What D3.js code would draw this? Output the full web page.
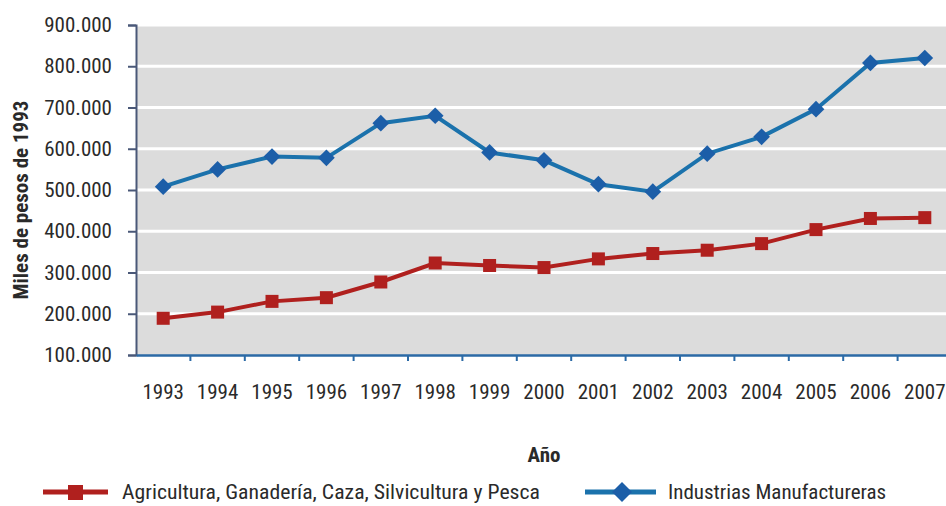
<!DOCTYPE html>
<html><head><meta charset="utf-8">
<script src="https://cdn.jsdelivr.net/npm/d3@7"></script>
<style>
body{margin:0;background:#fff;}
text{font-family:"Liberation Sans Narrow","Roboto Condensed","Liberation Sans",sans-serif;fill:#2a2a2a;}
</style></head>
<body><svg id="c" width="946" height="506"></svg>
<script>
const years = ["1993","1994","1995","1996","1997","1998","1999","2000","2001","2002","2003","2004","2005","2006","2007"];
const agricultura = [189000,204000,230000,239000,277000,323000,317000,312000,333000,346000,354000,370000,404000,431000,433000];
const industrias = [508000,550000,581000,578000,662000,680000,591000,572000,514000,496000,588000,629000,696000,808000,820000];
const yTicks = [100000,200000,300000,400000,500000,600000,700000,800000,900000];
const seriesNames = ["Agricultura, Ganadería, Caza, Silvicultura y Pesca","Industrias Manufactureras"];
const colors = {agri:"#b0201e", ind:"#1b72ac", indMarker:"#1c5ea8"};

const svg = d3.select("#c");
const L=136, R=952, T=25, B=355;
const FS = 21;
const x = d3.scaleBand().domain(years).range([L,R]);
const y = d3.scaleLinear().domain([100000,900000]).range([B,T]);
const fmt = v => d3.format(",")(v).replace(/,/g,".");

svg.append("rect").attr("x",L).attr("y",T).attr("width",946-L).attr("height",B-T).attr("fill","#dcdcdc");
svg.append("g").selectAll("line").data(yTicks.slice(1)).join("line")
  .attr("x1",L).attr("x2",946).attr("y1",d=>y(d)).attr("y2",d=>y(d))
  .attr("stroke","#fff").attr("stroke-width",3);

// y axis
const ya = svg.append("g").attr("transform",`translate(${L},0)`)
  .call(d3.axisLeft(y).tickValues(yTicks).tickFormat(fmt).tickSize(8).tickPadding(16));
ya.select(".domain").attr("stroke","#4a5878").attr("stroke-width",2);
ya.selectAll(".tick line").attr("stroke","#4a5878").attr("stroke-width",2);
ya.selectAll("text").attr("font-size",FS).attr("fill","#2a2a2a").attr("font-family",null);

// x axis
const xa = svg.append("g").attr("transform",`translate(0,${B})`)
  .call(d3.axisBottom(x).tickSize(0));
xa.select(".domain").attr("stroke","#2b6aa6").attr("stroke-width",2.5);
xa.selectAll("text").attr("font-size",FS).attr("fill","#2a2a2a").attr("font-family",null).attr("y",29);
svg.append("g").selectAll("line").data(years.slice(1)).join("line")
  .attr("x1",d=>x(d)).attr("x2",d=>x(d)).attr("y1",B).attr("y2",B+6)
  .attr("stroke","#2b6aa6").attr("stroke-width",2);

svg.append("text").attr("transform","translate(28,200) rotate(-90)").attr("text-anchor","middle")
  .attr("font-size",FS).attr("font-weight","bold").text("Miles de pesos de 1993");
svg.append("text").attr("x",544).attr("y",462).attr("text-anchor","middle")
  .attr("font-size",FS).attr("font-weight","bold").text("Año");

const cx = d => x(d)+x.bandwidth()/2;
const line = d3.line().x((d,i)=>cx(years[i])).y(d=>y(d));
svg.append("path").datum(agricultura).attr("d",line).attr("fill","none").attr("stroke",colors.agri).attr("stroke-width",4);
svg.append("path").datum(industrias).attr("d",line).attr("fill","none").attr("stroke",colors.ind).attr("stroke-width",4);
svg.append("g").selectAll("rect").data(agricultura).join("rect")
  .attr("x",(d,i)=>cx(years[i])-6.5).attr("y",d=>y(d)-6.5).attr("width",13).attr("height",13).attr("fill",colors.agri);
const diamond = d3.symbol().type(d3.symbolSquare).size(140);
svg.append("g").selectAll("path").data(industrias).join("path")
  .attr("d",diamond).attr("transform",(d,i)=>`translate(${cx(years[i])},${y(d)}) rotate(45)`).attr("fill",colors.indMarker);

// legend
const lg = svg.append("g");
lg.append("line").attr("x1",43).attr("x2",108).attr("y1",492).attr("y2",492).attr("stroke",colors.agri).attr("stroke-width",5);
lg.append("rect").attr("x",68).attr("y",485).attr("width",15).attr("height",15).attr("fill",colors.agri);
lg.append("text").attr("x",122).attr("y",499).attr("font-size",FS).attr("textLength",418).attr("lengthAdjust","spacingAndGlyphs").text(seriesNames[0]);
lg.append("line").attr("x1",585).attr("x2",656).attr("y1",492).attr("y2",492).attr("stroke",colors.ind).attr("stroke-width",5);
lg.append("path").attr("d",d3.symbol().type(d3.symbolSquare).size(200)).attr("transform","translate(622,492) rotate(45)").attr("fill",colors.indMarker);
lg.append("text").attr("x",668).attr("y",499).attr("font-size",FS).text(seriesNames[1]);
</script></body></html>
